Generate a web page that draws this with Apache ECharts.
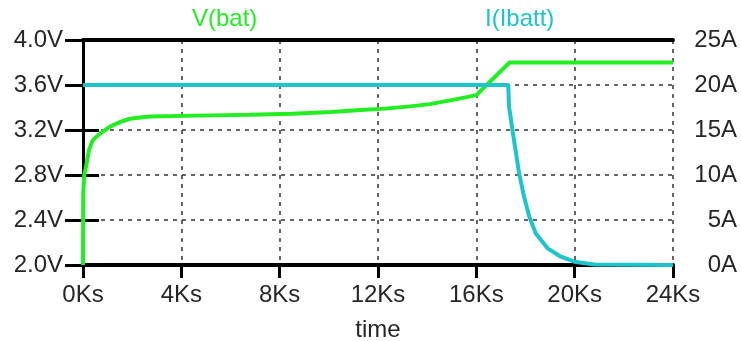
<!DOCTYPE html>
<html>
<head>
<meta charset="utf-8">
<script src="https://cdn.jsdelivr.net/npm/echarts@6/dist/echarts.min.js"></script>
<style>html,body{margin:0;padding:0;background:#fff}#c{width:741px;height:341px}</style>
</head>
<body>
<div id="c"></div>
<script>
// time in Ks
const vTime = [0, 0.01, 0.05, 0.12, 0.24, 0.4, 0.7, 1.1, 1.5, 1.9, 2.7, 5.2, 6.8, 8.5, 10.1, 11.3, 12.3, 13.3, 14.1, 15.1, 16.0, 17.35, 24];
const vBat  = [2.0, 2.64, 2.8, 2.87, 3.02, 3.11, 3.17, 3.23, 3.27, 3.30, 3.32, 3.33, 3.335, 3.345, 3.36, 3.378, 3.39, 3.41, 3.43, 3.47, 3.51, 3.80, 3.80];
const iTime = [0, 17.3, 17.33, 17.53, 17.74, 17.94, 18.15, 18.42, 18.9, 19.44, 19.98, 20.8, 24];
const iBatt = [20, 20, 17.6, 13.9, 10.2, 7.6, 5.4, 3.5, 1.85, 0.92, 0.37, 0.05, 0];
const xTicks = [0, 4, 8, 12, 16, 20, 24];
const leftTicks = [2.0, 2.4, 2.8, 3.2, 3.6, 4.0];
const rightTicks = [0, 5, 10, 15, 20, 25];

const font = 'Liberation Sans';
const fs = 24;
const txt = '#262626';
const chart = echarts.init(document.getElementById('c'));
chart.setOption({
  animation: false,
  backgroundColor: '#fff',
  grid: {left: 83, right: 68, top: 40, bottom: 76, containLabel: false, outerBoundsMode: 'none'},
  graphic: [
    {type: 'text', left: 192, top: 7, style: {text: 'V(bat)', fill: '#22ee22', font: fs + 'px "' + font + '"'}},
    {type: 'text', left: 485, top: 7, style: {text: 'I(Ibatt)', fill: '#1ec4cc', font: fs + 'px "' + font + '"'}}
  ],
  xAxis: [{
    type: 'value', min: xTicks[0], max: xTicks[xTicks.length - 1], interval: 4,
    name: 'time', nameLocation: 'middle', nameGap: 53,
    nameTextStyle: {color: txt, fontFamily: font, fontSize: fs},
    axisLine: {show: true, lineStyle: {color: '#000', width: 4}},
    axisTick: {show: true, inside: false, length: 13, lineStyle: {color: '#000', width: 3}},
    axisLabel: {show: true, color: txt, fontFamily: font, fontSize: fs, margin: 18, formatter: v => v + 'Ks'},
    splitLine: {show: true, lineStyle: {color: '#333', width: 1.5, type: [4, 5]}}
  }, {
    type: 'value', position: 'top', min: 0, max: 24,
    axisLine: {show: true, lineStyle: {color: '#000', width: 4}},
    axisTick: {show: false}, axisLabel: {show: false}, splitLine: {show: false}
  }],
  yAxis: [{
    type: 'value', min: leftTicks[0], max: leftTicks[leftTicks.length - 1], interval: 0.4,
    axisLine: {show: true, lineStyle: {color: '#000', width: 3}},
    axisTick: {show: true, inside: false, length: 18, lineStyle: {color: '#000', width: 3}},
    axisLabel: {show: true, color: txt, fontFamily: font, fontSize: fs, margin: 20, formatter: v => v.toFixed(1) + 'V'},
    splitLine: {show: true, lineStyle: {color: '#333', width: 1.5, type: [4, 5]}}
  }, {
    type: 'value', min: rightTicks[0], max: rightTicks[rightTicks.length - 1], interval: 5, position: 'right',
    axisLine: {show: true, lineStyle: {color: '#000', width: 3}},
    axisTick: {show: true, inside: false, length: 16, lineStyle: {color: '#000', width: 3}},
    axisLabel: {show: true, color: txt, fontFamily: font, fontSize: fs, margin: 20,
      formatter: v => '{a|' + v + 'A}', rich: {a: {width: 44, align: 'right', color: txt, fontFamily: font, fontSize: fs}}},
    splitLine: {show: false}
  }],
  series: [{
    name: 'V(bat)', type: 'line', xAxisIndex: 0, yAxisIndex: 0, showSymbol: false, smooth: false,
    data: vTime.map((t, k) => [t, vBat[k]]),
    lineStyle: {color: '#22ee22', width: 4}, z: 3
  }, {
    name: 'I(Ibatt)', type: 'line', xAxisIndex: 0, yAxisIndex: 1, showSymbol: false, smooth: false,
    data: iTime.map((t, k) => [t, iBatt[k]]),
    lineStyle: {color: '#1ec4cc', width: 4}, z: 4
  }]
});
</script>
</body>
</html>
